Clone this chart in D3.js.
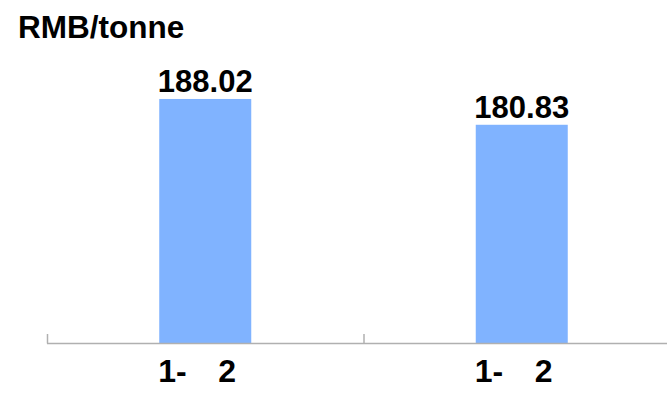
<!DOCTYPE html>
<html>
<head>
<meta charset="utf-8">
<script src="https://cdn.jsdelivr.net/npm/d3@7"></script>
<style>
  html, body { margin: 0; padding: 0; background: #fff; }
  svg { display: block; }
  text { font-family: "Liberation Sans", Arial, sans-serif; font-weight: bold; fill: #000; }
</style>
</head>
<body>
<svg id="chart" width="667" height="394"></svg>
<script>
// Average price per tonne, two periods
const categories = ["p1", "p2"];
const categoryLabels = ["1-   2", "1-   2"];
const values = [188.02, 180.83];
const unitLabel = "RMB/tonne";
const yDomain = [120, 200];

const svg = d3.select("#chart");
const W = 667, H = 394;
const margin = { left: 47, right: -13, top: 56, bottom: 51 };

const x = d3.scaleBand()
  .domain(categories)
  .range([margin.left, W - margin.right])
  .paddingInner(0)
  .paddingOuter(0);

const y = d3.scaleLinear()
  .domain(yDomain)
  .range([H - margin.bottom, margin.top]);

const barW = 92;

// unit title
svg.append("text")
  .attr("x", 18)
  .attr("y", 38)
  .style("font-size", "31.5px")
  .text(unitLabel);

// bars
svg.selectAll("rect.bar")
  .data(values)
  .join("rect")
  .attr("class", "bar")
  .attr("x", (d, i) => x(categories[i]) + x.bandwidth() / 2 - barW / 2)
  .attr("y", d => y(d))
  .attr("width", barW)
  .attr("height", d => y(yDomain[0]) - y(d))
  .attr("fill", "#80b3ff");

// value labels
svg.selectAll("text.val")
  .data(values)
  .join("text")
  .attr("class", "val")
  .attr("x", (d, i) => x(categories[i]) + x.bandwidth() / 2)
  .attr("y", d => y(d) - 7)
  .attr("text-anchor", "middle")
  .style("font-size", "31px")
  .text(d => d.toFixed(2));

// x axis: baseline with ticks at band boundaries
const axisY = y(yDomain[0]);
const axis = svg.append("g").attr("class", "x-axis");
axis.append("line")
  .attr("x1", x.range()[0]).attr("x2", x.range()[1])
  .attr("y1", axisY + 0.5).attr("y2", axisY + 0.5)
  .attr("stroke", "#b0b0b0").attr("stroke-width", 1.5);
const boundaries = categories.map(c => x(c));
axis.selectAll("line.tick")
  .data(boundaries)
  .join("line")
  .attr("class", "tick")
  .attr("x1", d => d + 0.5).attr("x2", d => d + 0.5)
  .attr("y1", axisY - 9).attr("y2", axisY + 0.5)
  .attr("stroke", "#b0b0b0").attr("stroke-width", 1.5);

// category labels
svg.selectAll("text.cat")
  .data(categories)
  .join("text")
  .attr("class", "cat")
  .attr("x", d => x(d) + x.bandwidth() / 2 - 47)
  .attr("y", axisY + 39)
  .attr("text-anchor", "start")
  .attr("xml:space", "preserve")
  .style("white-space", "pre")
  .style("word-spacing", "1.6px")
  .style("font-size", "32px")
  .text((d, i) => categoryLabels[i]);
</script>
</body>
</html>
